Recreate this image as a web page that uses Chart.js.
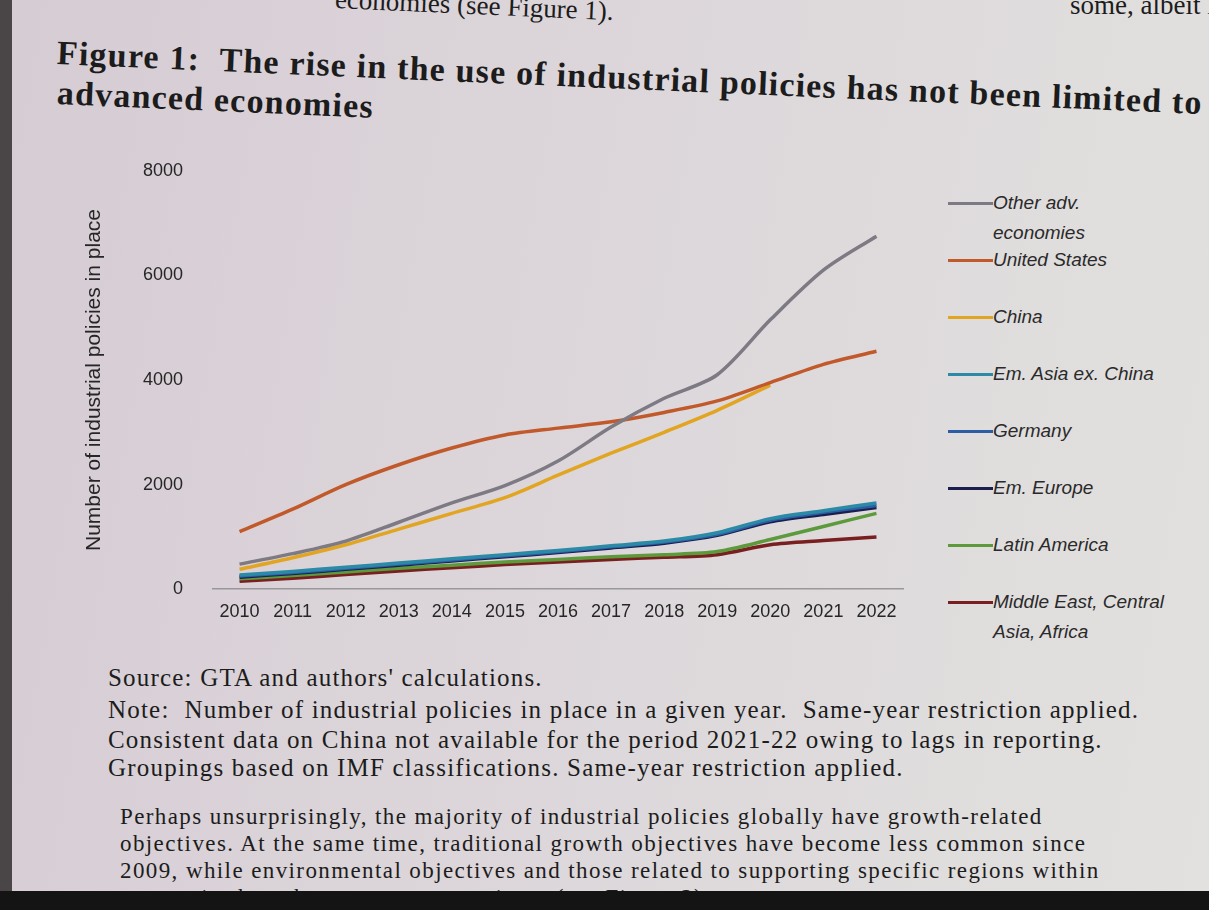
<!DOCTYPE html>
<html>
<head>
<meta charset="utf-8">
<script src="https://cdn.jsdelivr.net/npm/chart.js@4.4.1/dist/chart.umd.min.js"></script>
<style>
  html, body { margin: 0; padding: 0; }
  body {
    width: 1209px; height: 910px; overflow: hidden; position: relative;
    background: linear-gradient(100deg, #d6ccd4 0%, #dcd6da 45%, #e2e1df 100%);
    font-family: "Liberation Serif", "DejaVu Serif", serif; color: #1c1c1c;
  }
  .edge { position: absolute; left: 0; top: 0; width: 12px; height: 910px; background: #4a4648; }
  .bottom { position: absolute; left: 0; top: 891px; width: 1209px; height: 19px; background: #141414; }
  .txt { position: absolute; white-space: nowrap; }
  .tilt { transform: rotate(2.5deg); transform-origin: 0 50%; }
  .note { font-size: 25px; letter-spacing: 1.2px; }
  .para { font-size: 23px; letter-spacing: 1.4px; }
  #chartBox { position: absolute; left: 80px; top: 130px; width: 830px; height: 500px; }
  #legend { position: absolute; left: 948px; top: 188px; font-family: "Liberation Sans", sans-serif; font-style: italic; font-size: 19px; color: #2a2a2a; }
  .item { height: 57px; display: flex; align-items: flex-start; }
  .swatch { width: 45px; height: 3px; margin-top: 14px; flex: none; }
  .lbl { line-height: 30px; }
</style>
</head>
<body>
<div class="edge"></div>
<div class="txt tilt" style="left:335px; top:-16px; font-size:27px;">economies (see Figure 1).</div>
<div class="txt" style="left:1070px; top:-10px; font-size:27px;">some, albeit l</div>
<div class="txt tilt" style="left:57px; top:34px; font-size:34px; font-weight:bold; letter-spacing:1.2px;">Figure 1: &nbsp;The rise in the use of industrial policies has not been limited to</div>
<div class="txt tilt" style="left:57px; top:74px; font-size:34px; font-weight:bold; letter-spacing:1.2px;">advanced economies</div>

<div id="chartBox"><canvas id="policyChart"></canvas></div>
<div id="legend"></div>

<div class="txt note" style="left:108px; top:664px;">Source: GTA and authors' calculations.</div>
<div class="txt note" style="left:108px; top:696px;">Note: &nbsp;Number of industrial policies in place in a given year. &nbsp;Same-year restriction applied.</div>
<div class="txt note" style="left:108px; top:726px;">Consistent data on China not available for the period 2021-22 owing to lags in reporting.</div>
<div class="txt note" style="left:108px; top:754px;">Groupings based on IMF classifications. Same-year restriction applied.</div>
<div class="txt para" style="left:120px; top:804px;">Perhaps unsurprisingly, the majority of industrial policies globally have growth-related</div>
<div class="txt para" style="left:120px; top:831px;">objectives. At the same time, traditional growth objectives have become less common since</div>
<div class="txt para" style="left:120px; top:858px;">2009, while environmental objectives and those related to supporting specific regions within</div>
<div class="txt para" style="left:120px; top:885px;">economies have become more prominent (see Figure 2).</div>
<div class="bottom"></div>

<script>
const years = ['2010', '2011', '2012', '2013', '2014', '2015', '2016', '2017', '2018', '2019', '2020', '2021', '2022'];
const yTicks = [0, 2000, 4000, 6000, 8000];

const otherAdv = [480, 680, 920, 1280, 1650, 1980, 2450, 3100, 3650, 4100, 5150, 6100, 6750];
const unitedStates = [1100, 1530, 2000, 2380, 2700, 2950, 3080, 3200, 3380, 3600, 3950, 4300, 4550];
const china = [380, 600, 850, 1150, 1450, 1750, 2180, 2600, 3000, 3420, 3900, null, null];
const emAsia = [270, 340, 420, 500, 580, 660, 740, 830, 920, 1080, 1350, 1500, 1650];
const germany = [250, 320, 400, 480, 560, 640, 720, 810, 900, 1050, 1320, 1470, 1600];
const emEurope = [230, 300, 380, 460, 540, 620, 700, 790, 880, 1030, 1290, 1430, 1560];
const latinAmerica = [200, 260, 330, 400, 460, 520, 570, 620, 660, 720, 950, 1200, 1450];
const middleEast = [150, 210, 280, 350, 410, 470, 520, 570, 610, 660, 850, 930, 1000];

const seriesNames = [['Other adv.', 'economies'], ['United States'], ['China'], ['Em. Asia ex. China'],
    ['Germany'], ['Em. Europe'], ['Latin America'], ['Middle East, Central', 'Asia, Africa']];
const seriesData = [otherAdv, unitedStates, china, emAsia, germany, emEurope, latinAmerica, middleEast];
const seriesColors = ['#7d7a84', '#c2592a', '#e2a521', '#2b8aa6', '#2c5ea6', '#1b1f4e', '#5c9a3c', '#7a1f1f'];

const datasets = seriesData.map(function (data, i) {
    return {
        label: seriesNames[i].join(' '),
        data: data,
        borderColor: seriesColors[i],
        borderWidth: 3.5,
        pointRadius: 0,
        fill: false,
        tension: 0.3,
        spanGaps: false,
    };
});

// html legend, same order as datasets
const legendEl = document.getElementById('legend');
seriesNames.forEach(function (name, i) {
    const item = document.createElement('div');
    item.className = 'item';
    item.innerHTML = '<div class="swatch" style="background:' + seriesColors[i] + '"></div>' +
        '<div class="lbl">' + name.join('<br>') + '</div>';
    legendEl.appendChild(item);
});

const tickFont = { size: 18, family: "'Liberation Sans', sans-serif" };

new Chart(document.getElementById('policyChart'), {
    type: 'line',
    data: { labels: years, datasets: datasets },
    options: {
        responsive: true,
        maintainAspectRatio: false,
        animation: false,
        layout: { padding: { top: 10, right: 7, bottom: 0, left: 0 } },
        scales: {
            x: {
                offset: true,
                grid: { display: false, drawTicks: false },
                border: { display: true, color: '#9a979a', width: 1.5 },
                ticks: { color: '#262626', font: tickFont, padding: 12, maxRotation: 0, autoSkip: false },
                afterFit: function (axis) { axis.height = 40; },
            },
            y: {
                min: 0,
                max: 8000,
                afterBuildTicks: function (axis) { axis.ticks = yTicks.map(function (v) { return { value: v }; }); },
                grid: { display: false, drawTicks: false },
                border: { display: false },
                ticks: {
                    color: '#262626',
                    font: tickFont,
                    padding: 30,
                    callback: function (value) { return String(value); },
                },
                title: {
                    display: true,
                    text: 'Number of industrial policies in place',
                    color: '#262626',
                    font: { size: 21, family: "'Liberation Sans', sans-serif" },
                    padding: { top: 2, bottom: 0 },
                },
                afterFit: function (axis) { axis.width = 133; },
            },
        },
        plugins: {
            legend: { display: false },
            tooltip: { enabled: false },
        },
    },
});
</script>
</body>
</html>
